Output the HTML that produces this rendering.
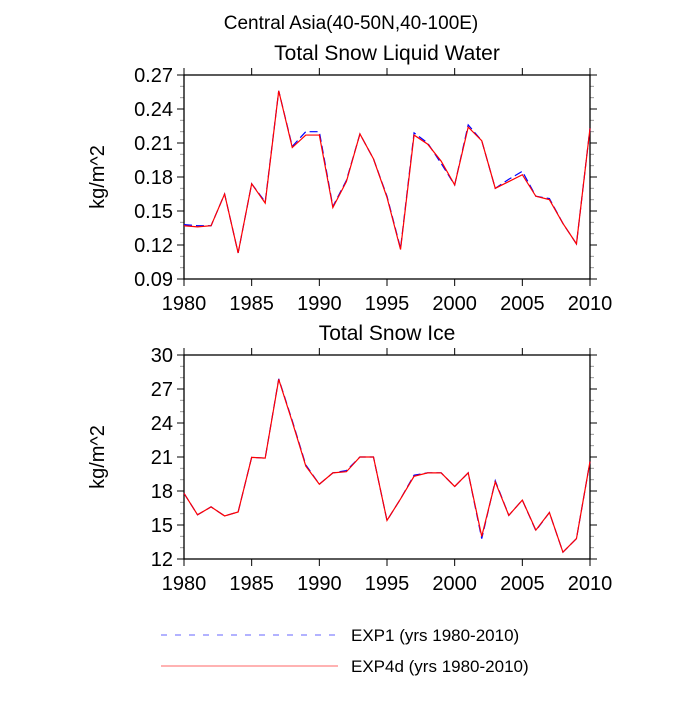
<!DOCTYPE html>
<html><head><meta charset="utf-8"><style>
body{margin:0;background:#fff}
svg text{font-family:"Liberation Sans",sans-serif;fill:#000}
</style></head><body>
<svg id="c" width="700" height="700" xmlns="http://www.w3.org/2000/svg">
<text x="351" y="29" font-size="19" text-anchor="middle">Central Asia(40-50N,40-100E)</text>
<g id="legend">
<line x1="161" y1="635" x2="338" y2="635" stroke="#6666ff" stroke-width="1" stroke-dasharray="6,8"/>
<text x="351" y="641" font-size="17">EXP1 (yrs 1980-2010)</text>
<line x1="161" y1="666" x2="338" y2="666" stroke="#ff6666" stroke-width="1"/>
<text x="351" y="672" font-size="17">EXP4d (yrs 1980-2010)</text>
</g>
</svg>
<script>
const years=[];for(let y=1980;y<=2010;y++)years.push(y);
const xTicks=[1980,1985,1990,1995,2000,2005,2010];
const water4d=[0.137,0.136,0.137,0.165,0.113,0.174,0.157,0.256,0.206,0.217,0.217,0.153,0.176,0.218,0.196,0.162,0.116,0.217,0.209,0.194,0.173,0.224,0.212,0.170,0.176,0.182,0.163,0.160,0.139,0.121,0.223];
const water1=[0.138,0.137,0.137,0.165,0.113,0.174,0.158,0.256,0.207,0.220,0.220,0.154,0.177,0.218,0.196,0.163,0.117,0.219,0.210,0.192,0.173,0.226,0.212,0.170,0.178,0.185,0.163,0.161,0.139,0.121,0.223];
const waterTicks=[0.09,0.12,0.15,0.18,0.21,0.24,0.27];
const ice4d=[17.8,15.9,16.6,15.8,16.15,20.97,20.9,27.85,24.1,20.2,18.6,19.6,19.7,21.0,21.0,15.4,17.3,19.3,19.6,19.6,18.4,19.6,14.0,18.8,15.85,17.2,14.55,16.1,12.6,13.8,20.6];
const ice1=[17.8,15.9,16.6,15.8,16.15,20.97,20.9,27.9,24.2,20.3,18.6,19.6,19.8,21.0,21.0,15.4,17.3,19.4,19.6,19.6,18.4,19.6,13.8,18.9,15.85,17.2,14.5,16.1,12.6,13.8,20.6];
const iceTicks=[12,15,18,21,24,27,30];
const svg=document.getElementById('c');const NS='http://www.w3.org/2000/svg';
function mk(t,a,p){const e=document.createElementNS(NS,t);for(const k in a)e.setAttribute(k,a[k]);(p||svg).appendChild(e);return e;}
function panel(top,title,yTicks,s1,s4,ymin,ymax,dec,key){
 const L=184,R=590,T=top,B=top+204;
 const g=mk('g',{});
 
 
 const xs=v=>L+(v-1980)/30*(R-L), ys=v=>B-(v-ymin)/(ymax-ymin)*(B-T);
 const tt=mk('text',{x:(L+R)/2,y:T-15,'font-size':21,'text-anchor':'middle'},g);tt.textContent=title;
 
 
 const yl=mk('text',{x:0,y:0,'font-size':20,'text-anchor':'middle',transform:`translate(104,${(T+B)/2}) rotate(-90)`},g);yl.textContent='kg/m^2';
 
 
 const step=(yTicks[1]-yTicks[0])/3;
 for(let v=ymin;v<=ymax+1e-9;v+=step){const y=ys(v);const r=Math.round((v-ymin)/step);const major=r%3===0;
  const len=major?7:4,col=major?'#000':'#999';
  mk('line',{x1:L-len,y1:y,x2:L,y2:y,stroke:col},g);mk('line',{x1:R,y1:y,x2:R+len,y2:y,stroke:col},g);}
 yTicks.forEach(v=>{const t=mk('text',{x:L-11,y:ys(v)+7,'font-size':20,'text-anchor':'end'},g);t.textContent=v.toFixed(dec);
  
  });
 xTicks.forEach(v=>{const x=xs(v);mk('line',{x1:x,y1:B,x2:x,y2:B+7,stroke:'#000'},g);mk('line',{x1:x,y1:T-7,x2:x,y2:T,stroke:'#000'},g);
  const t=mk('text',{x:x,y:B+31,'font-size':20,'text-anchor':'middle'},g);t.textContent=v;
  
  });
 mk('rect',{x:L,y:T,width:R-L,height:B-T,fill:'none',stroke:'#000','stroke-width':1.3},g);
 const p1=mk('polyline',{points:years.map((y,i)=>xs(y)+','+ys(s1[i])).join(' '),fill:'none',stroke:'#0000ff','stroke-width':1.2,'stroke-dasharray':'8,4'},g);
 
 
 const p4=mk('polyline',{points:years.map((y,i)=>xs(y)+','+ys(s4[i])).join(' '),fill:'none',stroke:'#ff0000','stroke-width':1.2},g);
 
 
}
panel(75,'Total Snow Liquid Water',waterTicks,water1,water4d,0.09,0.27,2,'liquid-water');
panel(355,'Total Snow Ice',iceTicks,ice1,ice4d,12,30,0,'snow-ice');
</script>
</body></html>
